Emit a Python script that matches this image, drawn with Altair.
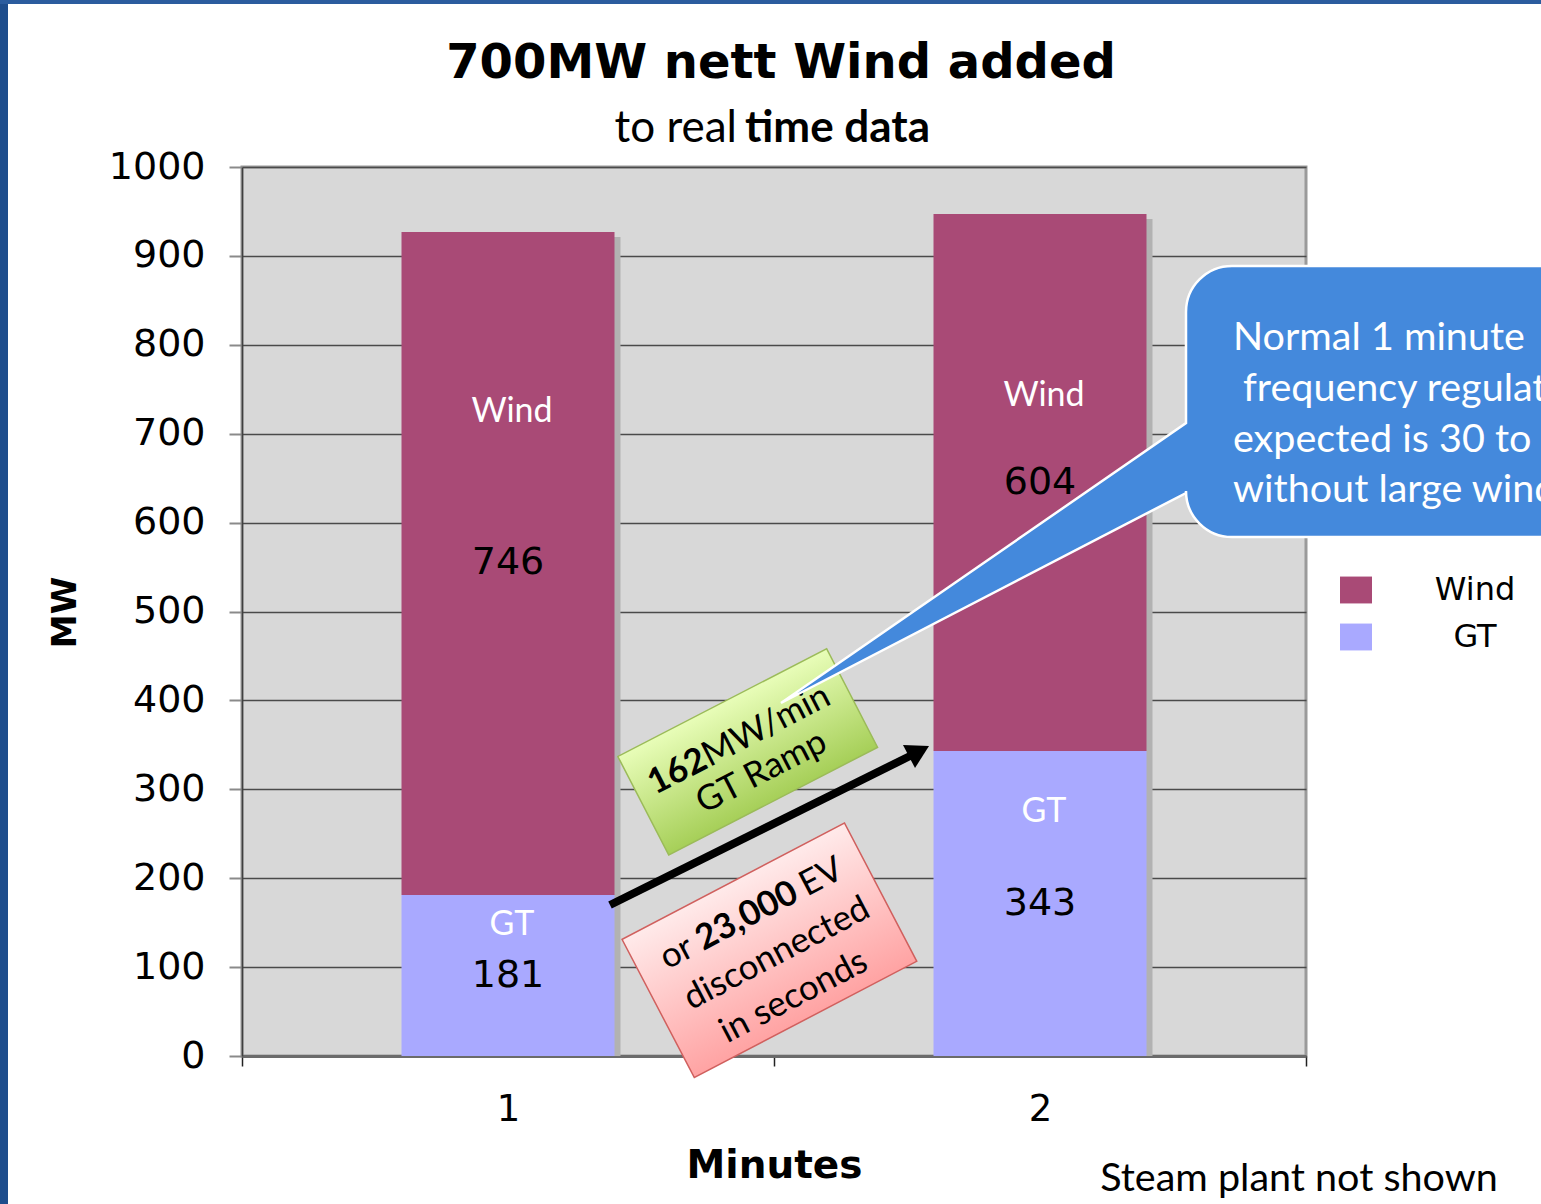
import math

import altair as alt
import pandas as pd

# ---------------------------------------------------------------- data
minutes = [1, 2]
gt_mw = [181, 343]
wind_mw = [746, 604]
series_names = ["Wind", "GT"]
series_colors = ["#a94a76", "#a9a9ff"]
y_ticks = list(range(0, 1001, 100))

# MW level at which the series name is written inside each segment
wind_name_mw = [724, 742]
gt_name_mw = [147, 274]

# ---------------------------------------------------------------- layout
PAGE_W, PAGE_H = 1541, 1204
OX, OY = 242, 167            # top-left corner of the plot area on the page
W, H = 1064, 889             # plot area size
BAR_W = 213

CAL = "Lato"                 # humanist face for the annotation texts
VER = "DejaVu Sans"          # wide face for axes, numbers and title

rows = []
for i, m in enumerate(minutes):
    lo = 0
    for name, vals, name_lvl, order in (("GT", gt_mw, gt_name_mw, 0),
                                        ("Wind", wind_mw, wind_name_mw, 1)):
        v = vals[i]
        rows.append(dict(minute=str(m), series=name, mw=v, lo=lo, hi=lo + v,
                         mid=lo + v / 2, name_at=name_lvl[i], order=order))
        lo += v
df = pd.DataFrame(rows)
totals = pd.DataFrame({"minute": [str(m) for m in minutes],
                       "total": [g + w for g, w in zip(gt_mw, wind_mw)]})
one = pd.DataFrame({"k": [0]})

x_scale = alt.Scale(domain=[str(m) for m in minutes], paddingInner=0, paddingOuter=0)
y_scale = alt.Scale(domain=[0, 1000], nice=False)

x_axis = alt.Axis(
    title="Minutes", labelAngle=0, tickBand="extent", tickSize=10, tickColor="#222222",
    tickWidth=1.5, domainColor="#6b6b6b", domainWidth=3, grid=False,
    labelFont=VER, labelFontSize=37, labelColor="black", labelBaseline="middle",
    labelPadding=43, titleFont=VER, titleFontWeight="bold", titleFontSize=39,
    titleColor="black", titleBaseline="middle", titleY=109,
)
y_axis = alt.Axis(
    title="MW", values=y_ticks, format="d", tickSize=13, tickColor="#8a8a8a",
    tickWidth=2, domainColor="#404040", domainWidth=1.5, grid=True,
    gridColor="#4a4a4a", gridWidth=1.5, labelFont=VER, labelFontSize=38,
    labelColor="black", labelPadding=24, labelFlush=False, labelOverlap=False,
    titleFont=VER, titleFontWeight="bold", titleFontSize=34, titleColor="black",
    titleAngle=270, titleAlign="center", titleBaseline="middle",
    titleX=-177, titleY=445,
)


def px(x, y):
    """Page pixel -> plot-area pixel."""
    return x - OX, y - OY


def along(cx, cy, deg, du, dv):
    """Point offset du along / dv across a direction rotated by deg (screen)."""
    a = math.radians(deg)
    x = cx + du * math.cos(a) - dv * math.sin(a)
    y = cy + du * math.sin(a) + dv * math.cos(a)
    return px(x, y)


def poly_path(points):
    pts = [px(x, y) for x, y in points]
    return "M" + "L".join(f"{x:.1f},{y:.1f}" for x, y in pts) + "Z"


def rect_path(w, h):
    return f"M{-w/2:.1f},{-h/2:.1f}H{w/2:.1f}V{h/2:.1f}H{-w/2:.1f}Z"


def gradient(c0, c1):
    return {"gradient": "linear", "x1": 0, "y1": 0, "x2": 0, "y2": 1,
            "stops": [{"offset": 0, "color": c0}, {"offset": 1, "color": c1}]}


def label(text, x, y, size, font=CAL, weight="normal", color="black",
          align="center", angle=0):
    return alt.Chart(one).mark_text(
        text=text, font=font, fontSize=size, fontWeight=weight, color=color,
        align=align, baseline="middle", angle=angle,
    ).encode(x=alt.value(x), y=alt.value(y))


def shape(path, x=0, y=0, fill="#000000", stroke=None, stroke_width=0, angle=0):
    kw = dict(shape=path, size=4, filled=True, fill=fill, opacity=1,
              strokeWidth=stroke_width, angle=angle)
    if stroke:
        kw["stroke"] = stroke
    return alt.Chart(one).mark_point(**kw).encode(x=alt.value(x), y=alt.value(y))


# ---------------------------------------------------------------- bars
shadow = alt.Chart(totals).mark_bar(
    size=BAR_W, xOffset=6, yOffset=5, color="#b2b2b2", clip=True
).encode(
    x=alt.X("minute:O", scale=x_scale, axis=x_axis, sort=None),
    y=alt.Y("total:Q", scale=y_scale, axis=y_axis),
)

bars = alt.Chart(df).mark_bar(size=BAR_W).encode(
    x=alt.X("minute:O", scale=x_scale, sort=None),
    y=alt.Y("hi:Q", scale=y_scale),
    y2="lo:Q",
    color=alt.Color(
        "series:N",
        scale=alt.Scale(domain=series_names, range=series_colors),
        legend=alt.Legend(
            title=None, orient="none", legendX=1098, legendY=407,
            direction="vertical", padding=0, rowPadding=15,
            symbolType="M-1,-0.84L1,-0.84L1,0.84L-1,0.84Z", symbolSize=1024,
            symbolStrokeWidth=0, symbolOpacity=1,
            labelFont=VER, labelFontSize=32, labelColor="black",
            labelAlign="center", labelOffset=103,
        ),
    ),
)

values = alt.Chart(df).mark_text(
    font=VER, fontSize=38, color="black", baseline="middle"
).encode(
    x=alt.X("minute:O", scale=x_scale, sort=None),
    y=alt.Y("mid:Q", scale=y_scale),
    text="mw:Q",
)

names = alt.Chart(df).mark_text(
    font=CAL, fontSize=34, color="white", baseline="middle", dx=4
).encode(
    x=alt.X("minute:O", scale=x_scale, sort=None),
    y=alt.Y("name_at:Q", scale=y_scale),
    text="series:N",
)

# ---------------------------------------------------------------- green note
G_C, G_DEG = (747.7, 751.9), -27.3
g_ang = G_DEG % 360
green_box = shape(rect_path(235, 111), *px(*G_C),
                  fill=gradient("#e8fdb8", "#a6cf58"), stroke="#9bbb59",
                  stroke_width=1.5, angle=g_ang)
green_txt = [
    label("162", *along(*G_C, G_DEG, -41, -15), 35, weight="bold",
          align="right", angle=g_ang),
    label("MW/min", *along(*G_C, G_DEG, -41, -15), 35, align="left", angle=g_ang),
    label("GT Ramp", *along(*G_C, G_DEG, 3, 24), 35, angle=g_ang),
]

# ---------------------------------------------------------------- pink note
P_C, P_DEG = (769.4, 950.3), -27.6
p_ang = P_DEG % 360
pink_box = shape(rect_path(251, 156), *px(*P_C),
                 fill=gradient("#ffeaea", "#ffa3a3"), stroke="#d0605e",
                 stroke_width=1.5, angle=p_ang)
pink_txt = [
    label("or", *along(*P_C, P_DEG, -67, -41), 35, align="right", angle=p_ang),
    label("23,000", *along(*P_C, P_DEG, -4, -41), 35, weight="bold", angle=p_ang),
    label("EV", *along(*P_C, P_DEG, 58, -41), 35, align="left", angle=p_ang),
    label("disconnected", *along(*P_C, P_DEG, 5, 6), 35, angle=p_ang),
    label("in seconds", *along(*P_C, P_DEG, 0, 52), 35, angle=p_ang),
]

# ---------------------------------------------------------------- ramp arrow
a0, a1 = (610, 905), (910, 756)
shaft = alt.Chart(one).mark_rule(strokeWidth=8, color="black", strokeCap="butt").encode(
    x=alt.value(px(*a0)[0]), y=alt.value(px(*a0)[1]),
    x2=alt.value(px(*a1)[0]), y2=alt.value(px(*a1)[1]),
)
head = shape(poly_path([(929, 746), (903, 745), (915, 768)]), fill="black")

# ---------------------------------------------------------------- call-out bubble
L, T, B, R, r = 1186, 266, 537, 1760, 46
tip = (781, 703)
bx = lambda v: v - OX
by = lambda v: v - OY
bubble_path = (
    f"M{bx(L + r)},{by(T)}H{bx(R)}V{by(B)}H{bx(L + r)}"
    f"A{r},{r} 0 0 1 {bx(L)},{by(B - r)}"
    f"V{by(493)}L{bx(tip[0])},{by(tip[1])}L{bx(L)},{by(423)}"
    f"V{by(T + r)}A{r},{r} 0 0 1 {bx(L + r)},{by(T)}Z"
)
bubble = shape(bubble_path, fill="#4489dc", stroke="white", stroke_width=2.5)
bubble_lines = [("Normal 1 minute", 1233, 338), ("frequency regulation", 1243, 389),
                ("expected is 30 to 60MW", 1233, 440), ("without large wind", 1233, 490)]
bubble_txt = [label(t, *px(x, y), 39.5, color="white", align="left")
              for t, x, y in bubble_lines]

# ---------------------------------------------------------------- page furniture
left_strip = alt.Chart(one).mark_rect(color="#1e4d8c").encode(
    x=alt.value(-OX), x2=alt.value(-OX + 8), y=alt.value(-OY), y2=alt.value(PAGE_H - OY))
top_strip = alt.Chart(one).mark_rect(color="#2b5c9e").encode(
    x=alt.value(-OX), x2=alt.value(PAGE_W - OX), y=alt.value(-OY), y2=alt.value(-OY + 4))

titles = [
    label("700MW nett Wind added", *px(781, 64), 48, font=VER, weight="bold"),
    label("to real", *px(737, 129), 44, align="right"),
    label("time data", *px(745, 129), 44, weight="bold", align="left"),
    label("Steam plant not shown", *px(1299, 1179), 39.5),
]

chart = alt.layer(
    shadow, bars, values, names,
    green_box, *green_txt,
    pink_box, *pink_txt,
    shaft, head,
    bubble, *bubble_txt,
    left_strip, top_strip, *titles,
).properties(
    width=W, height=H,
    autosize=alt.AutoSizeParams(type="none"),
    padding={"left": OX, "top": OY, "right": PAGE_W - OX - W, "bottom": PAGE_H - OY - H},
    background="white",
).configure_view(
    fill="#d8d8d8", stroke="#9a9a9a", strokeWidth=3,
)

chart.save("out.html", embed_options={"renderer": "svg", "actions": False})
